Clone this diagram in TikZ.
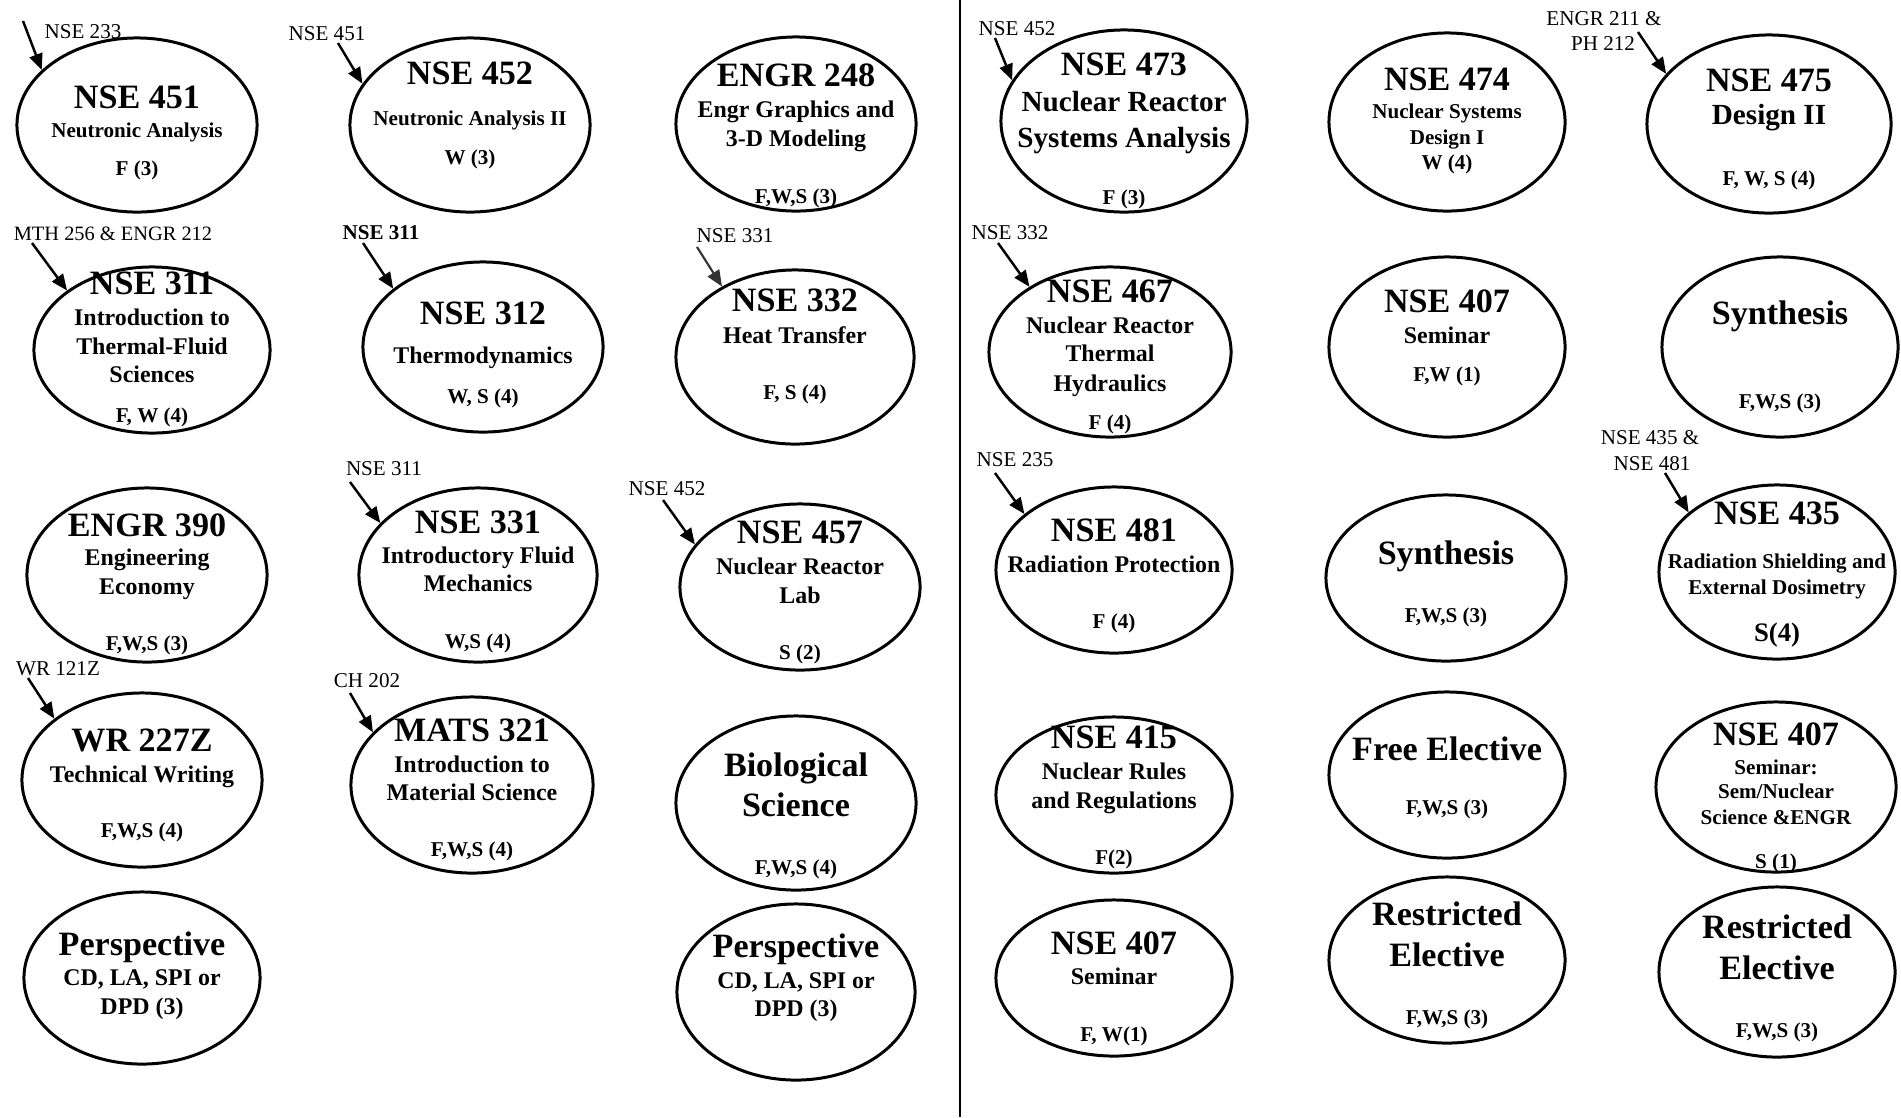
\documentclass[tikz,border=0pt]{standalone}
\usepackage{fontspec}
\setmainfont{Liberation Serif}
\usetikzlibrary{shapes.geometric,arrows.meta}

\tikzset{
 course/.style={ellipse,draw,line width=0.85pt,inner sep=0pt,minimum width=2.4cm,minimum height=1.74cm},
 ttl/.style={font=\fontsize{9.7}{11}\selectfont\bfseries,inner sep=0pt,text height=6.4pt,text depth=0pt},
 sub/.style={font=\fontsize{6.8}{8}\selectfont\bfseries,inner sep=0pt,text height=4.5pt,text depth=0pt},
 subs/.style={font=\fontsize{6}{7}\selectfont\bfseries,inner sep=0pt,text height=4pt,text depth=0pt},
 subl/.style={font=\fontsize{8.3}{9}\selectfont\bfseries,inner sep=0pt,text height=5.5pt,text depth=0pt},
 cred/.style={subs},
 prelbl/.style={font=\fontsize{6}{7}\selectfont,inner sep=0pt,text height=4pt,text depth=0pt},
 prearrow/.style={-{Triangle[length=4.6pt,width=3.8pt]},line width=0.7pt},
}

\begin{document}
\begin{tikzpicture}[x=0.01cm,y=-0.01cm]
 \useasboundingbox (0,0) rectangle (1901,1117);
 \draw[line width=0.6pt] (960,0) -- (960,1117);

 % left half, first column
 \node[course] (n451) at (137,125) {};
 \node[ttl] (n451a) at (137,97) {NSE 451};
 \node[subs] (n451b) at (137,130) {Neutronic Analysis};
 \node[cred] (n451c) at (137,168) {F (3)};

 \node[course,minimum width=2.36cm,minimum height=1.66cm] (n311) at (152,350) {};
 \node[ttl] (n311a) at (152,283) {NSE 311};
 \node[sub] (n311b) at (152,318) {Introduction to};
 \node[sub] (n311c) at (152,347) {Thermal-Fluid};
 \node[sub] (n311d) at (152,375) {Sciences};
 \node[cred] (n311e) at (152,415) {F, W (4)};

 \node[course] (n390) at (147,575) {};
 \node[ttl] (n390a) at (147,525) {ENGR 390};
 \node[sub] (n390b) at (147,558) {Engineering};
 \node[sub] (n390c) at (147,587) {Economy};
 \node[cred] (n390d) at (147,643) {F,W,S (3)};

 \node[course] (n227) at (142,780) {};
 \node[ttl] (n227a) at (142,740) {WR 227Z};
 \node[sub] (n227b) at (142,775) {Technical Writing};
 \node[cred] (n227c) at (142,830) {F,W,S (4)};

 \node[course,minimum width=2.36cm,minimum height=1.72cm] (npersA) at (142,978) {};
 \node[ttl] (npersAa) at (142,944) {Perspective};
 \node[sub] (npersAb) at (142,978) {CD, LA, SPI or};
 \node[sub] (npersAc) at (142,1007) {DPD (3)};

 % left half, second column
 \node[course] (n452) at (470,125) {};
 \node[ttl] (n452a) at (470,73) {NSE 452};
 \node[subs] (n452b) at (470,118) {Neutronic Analysis II};
 \node[cred] (n452c) at (470,157) {W (3)};

 \node[course,minimum height=1.7cm] (n312) at (483,347) {};
 \node[ttl] (n312a) at (483,313) {NSE 312};
 \node[sub] (n312b) at (483,356) {Thermodynamics};
 \node[cred] (n312c) at (483,396) {W, S (4)};

 \node[course,minimum width=2.38cm] (n331) at (478,575) {};
 \node[ttl] (n331a) at (478,522) {NSE 331};
 \node[sub] (n331b) at (478,556) {Introductory Fluid};
 \node[sub] (n331c) at (478,584) {Mechanics};
 \node[cred] (n331d) at (478,641) {W,S (4)};

 \node[course,minimum width=2.42cm,minimum height=1.76cm] (n321) at (472,785) {};
 \node[ttl] (n321a) at (472,730) {MATS 321};
 \node[sub] (n321b) at (472,765) {Introduction to};
 \node[sub] (n321c) at (472,793) {Material Science};
 \node[cred] (n321d) at (472,849) {F,W,S (4)};

 % left half, third column
 \node[course] (n248) at (796,124) {};
 \node[ttl] (n248a) at (796,75) {ENGR 248};
 \node[sub] (n248b) at (796,110) {Engr Graphics and};
 \node[sub] (n248c) at (796,139) {3-D Modeling};
 \node[cred] (n248d) at (796,196) {F,W,S (3)};

 \node[course,minimum width=2.38cm] (n332) at (795,357) {};
 \node[ttl] (n332a) at (795,300) {NSE 332};
 \node[sub] (n332b) at (795,336) {Heat Transfer};
 \node[cred] (n332c) at (795,392) {F, S (4)};

 \node[course,minimum height=1.66cm] (n457) at (800,587) {};
 \node[ttl] (n457a) at (800,532) {NSE 457};
 \node[sub] (n457b) at (800,567) {Nuclear Reactor};
 \node[sub] (n457c) at (800,596) {Lab};
 \node[cred] (n457d) at (800,652) {S (2)};

 \node[course] (nbio) at (796,803) {};
 \node[ttl] (nbioa) at (796,765) {Biological};
 \node[ttl] (nbiob) at (796,805) {Science};
 \node[cred] (nbioc) at (796,867) {F,W,S (4)};

 \node[course,minimum width=2.38cm,minimum height=1.76cm] (npersB) at (796,992) {};
 \node[ttl] (npersBa) at (796,946) {Perspective};
 \node[sub] (npersBb) at (796,981) {CD, LA, SPI or};
 \node[sub] (npersBc) at (796,1009) {DPD (3)};

 % right half, first column
 \node[course,minimum width=2.46cm,minimum height=1.82cm] (n473) at (1124,121) {};
 \node[ttl] (n473a) at (1124,64) {NSE 473};
 \node[subl] (n473b) at (1124,102) {Nuclear Reactor};
 \node[subl] (n473c) at (1124,138) {Systems Analysis};
 \node[cred] (n473d) at (1124,197) {F (3)};

 \node[course,minimum width=2.42cm,minimum height=1.7cm] (n467) at (1110,352) {};
 \node[ttl] (n467a) at (1110,291) {NSE 467};
 \node[sub] (n467b) at (1110,326) {Nuclear Reactor};
 \node[sub] (n467c) at (1110,354) {Thermal};
 \node[sub] (n467d) at (1110,384) {Hydraulics};
 \node[cred] (n467e) at (1110,422) {F (4)};

 \node[course,minimum width=2.36cm,minimum height=1.66cm] (n481) at (1114,570) {};
 \node[ttl] (n481a) at (1114,530) {NSE 481};
 \node[sub] (n481b) at (1114,565) {Radiation Protection};
 \node[cred] (n481c) at (1114,621) {F (4)};

 \node[course,minimum width=2.36cm,minimum height=1.56cm] (n415) at (1114,795) {};
 \node[ttl] (n415a) at (1114,737) {NSE 415};
 \node[sub] (n415b) at (1114,772) {Nuclear Rules};
 \node[sub] (n415c) at (1114,801) {and Regulations};
 \node[cred] (n415d) at (1114,857) {F(2)};

 \node[course,minimum width=2.36cm,minimum height=1.56cm] (n407c) at (1114,978) {};
 \node[ttl] (n407ca) at (1114,943) {NSE 407};
 \node[sub] (n407cb) at (1114,977) {Seminar};
 \node[cred] (n407cc) at (1114,1034) {F, W(1)};

 % right half, second column
 \node[course,minimum width=2.36cm,minimum height=1.78cm] (n474) at (1447,122) {};
 \node[ttl] (n474a) at (1447,79) {NSE 474};
 \node[subs] (n474b) at (1447,111) {Nuclear Systems};
 \node[subs] (n474c) at (1447,137) {Design I};
 \node[cred] (n474d) at (1447,162) {W (4)};

 \node[course,minimum width=2.36cm,minimum height=1.8cm] (n407a) at (1447,347) {};
 \node[ttl] (n407aa) at (1447,301) {NSE 407};
 \node[sub] (n407ab) at (1447,336) {Seminar};
 \node[cred] (n407ac) at (1447,374) {F,W (1)};

 \node[course,minimum height=1.66cm] (nsynB) at (1446,578) {};
 \node[ttl] (nsynBa) at (1446,553) {Synthesis};
 \node[cred] (nsynBb) at (1446,615) {F,W,S (3)};

 \node[course,minimum width=2.36cm,minimum height=1.66cm] (nfree) at (1447,775) {};
 \node[ttl] (nfreea) at (1447,749) {Free Elective};
 \node[cred] (nfreeb) at (1447,807) {F,W,S (3)};

 \node[course,minimum width=2.36cm,minimum height=1.66cm] (nresA) at (1447,960) {};
 \node[ttl] (nresAa) at (1447,914) {Restricted};
 \node[ttl] (nresAb) at (1447,955) {Elective};
 \node[cred] (nresAc) at (1447,1017) {F,W,S (3)};

 % right half, third column
 \node[course,minimum width=2.44cm,minimum height=1.78cm] (n475) at (1769,124) {};
 \node[ttl] (n475a) at (1769,80) {NSE 475};
 \node[subl] (n475b) at (1769,115) {Design II};
 \node[cred] (n475c) at (1769,178) {F, W, S (4)};

 \node[course,minimum width=2.36cm,minimum height=1.8cm] (nsynA) at (1780,347) {};
 \node[ttl] (nsynAa) at (1780,313) {Synthesis};
 \node[cred] (nsynAb) at (1780,401) {F,W,S (3)};

 \node[course,minimum width=2.36cm] (n435) at (1777,572) {};
 \node[ttl] (n435a) at (1777,513) {NSE 435};
 \node[subs] (n435b) at (1777,561) {Radiation Shielding and};
 \node[subs] (n435c) at (1777,587) {External Dosimetry};
 \node[font=\fontsize{7.6}{9}\selectfont\bfseries,inner sep=0pt,text height=5pt,text depth=0pt] (n435d) at (1777,633) {S(4)};

 \node[course,minimum height=1.7cm] (n407b) at (1776,787) {};
 \node[ttl] (n407ba) at (1776,734) {NSE 407};
 \node[subs] (n407bb) at (1776,767) {Seminar:};
 \node[subs] (n407bc) at (1776,791) {Sem/Nuclear};
 \node[subs] (n407bd) at (1776,817) {Science \&ENGR};
 \node[cred] (n407be) at (1776,861) {S (1)};

 \node[course,minimum width=2.36cm,minimum height=1.7cm] (nresB) at (1777,972) {};
 \node[ttl] (nresBa) at (1777,927) {Restricted};
 \node[ttl] (nresBb) at (1777,968) {Elective};
 \node[cred] (nresBc) at (1777,1030) {F,W,S (3)};

 % prerequisites
 \node[prelbl] (l451) at (83,31) {NSE 233};
 \node[prelbl] (l452) at (327,33) {NSE 451};
 \node[prelbl,font=\fontsize{5.8}{7}\selectfont] (l311) at (113,233) {MTH 256 \& ENGR 212};
 \node[prelbl,font=\fontsize{6}{7}\selectfont\bfseries] (l312) at (381,232) {NSE 311};
 \node[prelbl] (l332) at (735,235) {NSE 331};
 \node[prelbl] (l331) at (384,468) {NSE 311};
 \node[prelbl] (l457) at (667,488) {NSE 452};
 \node[prelbl] (l227) at (58,668) {WR 121Z};
 \node[prelbl] (l321) at (367,680) {CH 202};
 \node[prelbl] (l473) at (1017,28) {NSE 452};
 \node[prelbl] (l475a) at (1604,18) {ENGR 211 \&};
 \node[prelbl] (l475b) at (1603,43) {PH 212};
 \node[prelbl] (l467) at (1010,232) {NSE 332};
 \node[prelbl] (l481) at (1015,459) {NSE 235};
 \node[prelbl] (l435a) at (1650,437) {NSE 435 \&};
 \node[prelbl] (l435b) at (1652,463) {NSE 481};

 \coordinate (s451) at (23,21);
 \coordinate (s452) at (338,43);
 \coordinate (s311) at (32,243);
 \coordinate (s312) at (363,243);
 \coordinate (s332) at (697,247);
 \coordinate (s331) at (350,482);
 \coordinate (s457) at (663,500);
 \coordinate (s227) at (28,678);
 \coordinate (s321) at (350,693);
 \coordinate (s473) at (995,38);
 \coordinate (s475) at (1638,32);
 \coordinate (s467) at (998,243);
 \coordinate (s481) at (995,473);
 \coordinate (s435) at (1665,473);

 \draw[prearrow] (s451) -- (n451.150);
 \draw[prearrow] (s452) -- (n452.159);
 \draw[prearrow] (s311) -- (n311.145);
 \draw[prearrow] (s312) -- (n312.147);
 \draw[prearrow,black!80,line width=0.6pt] (s332) -- (n332.136);
 \draw[prearrow] (s331) -- (n331.152);
 \draw[prearrow] (s457) -- (n457.158);
 \draw[prearrow] (s227) -- (n227.145);
 \draw[prearrow] (s321) -- (n321.152);
 \draw[prearrow] (s473) -- (n473.160);
 \draw[prearrow] (s475) -- (n475.154);
 \draw[prearrow] (s467) -- (n467.141);
 \draw[prearrow] (s481) -- (n481.148);
 \draw[prearrow] (s435) -- (n435.146);
\end{tikzpicture}
\end{document}
